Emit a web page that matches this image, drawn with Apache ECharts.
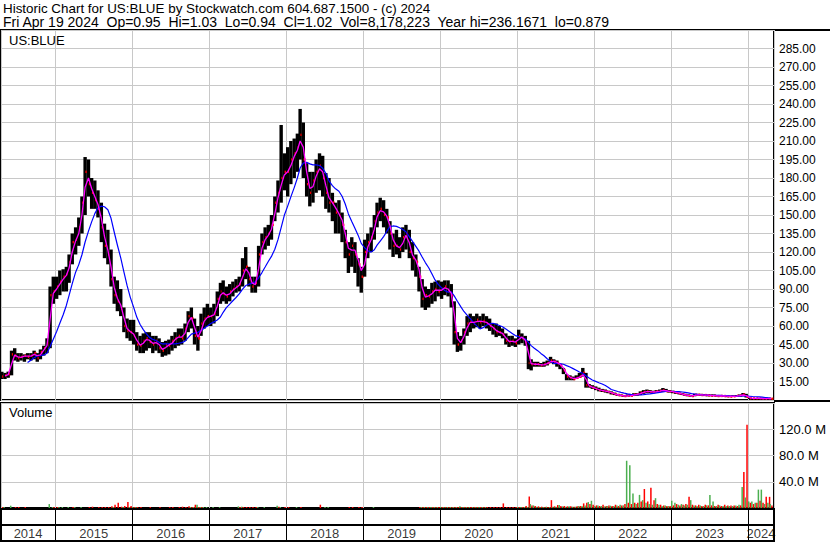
<!DOCTYPE html>
<html><head><meta charset="utf-8">
<script src="https://cdn.jsdelivr.net/npm/echarts@6/dist/echarts.min.js"></script>
<style>html,body{margin:0;padding:0;background:#fff}#c{width:830px;height:543px}</style>
</head><body><div id="c"></div>
<script>
// ---- half-month periods: [low, high, close] ----
const price2014 = [[17,23,19],[17,22,20],[18,23,21],[20,40,37],[32,42,36],[31,38,34],[32,38,35],[31,37,36],[33,38,35],[32,38,36],[33,40,38],[31,38,34],[33,41,39],[36,44,42],[38,50,46],[42,92,85],[78,100,88]];
const price2015 = [[82,100,92],[85,105,96],[88,106,100],[88,108,102],[95,118,112],[110,135,128],[118,140,130],[125,148,140],[135,165,160],[150,197,185],[165,195,175],[155,180,168],[155,178,162],[148,170,155],[128,160,140],[115,143,125],[110,138,118],[92,122,98],[78,100,85],[72,97,80],[68,90,74],[55,75,60],[50,66,56],[48,65,55]];
const price2016 = [[45,65,52],[40,55,45],[38,52,44],[38,54,48],[40,55,50],[42,55,47],[38,52,45],[40,52,48],[38,50,42],[35,47,40],[36,48,45],[37,49,44],[40,52,48],[42,55,50],[44,58,52],[45,58,50],[48,62,58],[55,72,68],[58,75,66],[45,66,52],[40,60,50],[52,70,62],[58,75,66],[60,78,68]];
const price2017 = [[60,75,68],[62,78,70],[68,88,82],[78,95,88],[80,97,86],[78,92,84],[80,94,88],[84,96,90],[87,98,92],[88,100,94],[92,115,105],[98,124,108],[92,108,98],[87,100,92],[87,100,95],[92,125,118],[118,135,128],[122,140,132],[125,142,135],[130,150,142],[145,165,160],[152,178,168],[160,223,180],[170,200,185]];
const price2018 = [[165,205,185],[175,210,195],[180,212,200],[185,216,205],[195,236,215],[180,225,195],[165,192,175],[157,185,168],[160,185,178],[168,195,185],[170,200,190],[165,198,180],[155,184,168],[152,180,160],[145,168,160],[135,160,152],[135,162,150],[128,152,142],[115,138,128],[103,128,118],[108,132,125],[103,128,118],[92,115,110],[87,108,100]];
const price2019 = [[100,130,120],[115,135,128],[120,140,132],[130,150,145],[140,160,152],[145,164,155],[140,162,150],[135,155,148],[122,145,135],[116,135,125],[118,138,125],[115,132,122],[120,140,132],[122,142,135],[115,138,120],[105,128,115],[100,118,112],[88,108,100],[75,98,82],[73,92,85],[75,90,84],[78,95,88],[80,96,90],[84,97,88]];
const price2020 = [[82,96,90],[85,97,92],[84,97,88],[75,94,85],[45,80,55],[39,55,45],[40,52,48],[45,58,55],[52,68,62],[55,70,64],[58,68,62],[59,70,65],[58,68,63],[60,70,64],[58,68,62],[56,66,60],[53,62,58],[51,62,55],[52,60,55],[50,58,53],[45,54,48],[43,52,47],[44,52,48],[43,50,46]];
const price2021 = [[45,57,52],[46,54,50],[44,52,47],[25,48,30],[24,33,29],[27,31,29],[27,31,29],[27,30,28],[27,31,29],[28,32,30],[30,35,32],[29,33,31],[27,32,30],[25,29,28],[21,26,24],[16,21,19],[16,20,18],[16,19,17],[17,20,18],[18,22,19],[19,26,22],[10,22,12],[10,13,11],[9,12,10]];
const price2022 = [[8,11,9],[7,10,8],[6.5,9,7.5],[6,8.5,7],[5.5,7.5,6.5],[4.5,7,5.5],[4,6,4.5],[3.5,5,4],[3,4.5,3.5],[2.7,4,3.2],[2.9,4.5,3.5],[3,4.5,3.5],[3.2,5.5,4.5],[3.5,5.5,4.5],[4,7,6],[5,8,6.5],[5.5,8.5,7],[5.5,8,6.5],[5.5,7.5,6.5],[6,8,7],[6.5,8.5,7.5],[6.5,9.7,8],[6.5,9,7],[6,8,7]];
const price2023 = [[5.5,7.5,6.5],[5,7,6],[4.5,6,5],[4,5.5,4.5],[3.5,5,4],[3,4.5,3.5],[2.8,4,3.2],[3,5,4.2],[3.5,5,4.2],[3.5,5,4],[3.2,4.8,4],[3,4.5,3.8],[3,4.5,3.5],[3,4.5,3.5],[2.8,4,3.2],[2.8,4,3.3],[2.6,3.8,3.2],[2.5,3.5,3],[2.4,3.5,2.8],[2.5,3.8,3],[2.7,4,3.4],[2.8,4.5,3.6],[3,5.7,4.5],[2,5,2.6]];
const price2024 = [[1.2,2,1.4],[1.0,1.6,1.3],[1.1,1.6,1.3],[1.0,1.5,1.2],[1.0,1.4,1.1],[0.9,1.3,1.1],[0.9,1.2,1.0],[0.88,1.05,1.02]];

// ---- peak daily volume in each half-month, millions: [up (green), down (red)] ----
const vol2014 = [[0,1],[1,0],[0,0],[3.5,0],[0,1.5],[0,1.2],[0,0],[0,1],[0,0],[0,0],[0,0],[0,0],[0,0],[0,0],[0,0],[6,0],[1,1.5]];
const vol2015 = [[0,1.2],[1,0],[1,0],[0,0],[1,0],[0,1],[1,0],[0,0],[1.5,0],[0,0],[0,1],[0,2],[0,0],[0,1.2],[0,1],[0,1.2],[0,1],[0,2.5],[1,5],[0,8],[0,2],[1,3],[0,9],[1,3]];
const vol2016 = [[1,1.5],[1,1],[0,1],[0,0],[0,0],[0,1],[0,0],[0,0],[0,1],[0,0],[0,0],[0,1.5],[0,1],[0,0],[0,1],[0,2],[0,1.2],[0,2.5],[1,1.5],[1,5],[5,1],[1.5,1],[1,0],[1,0]];
const vol2017 = [[0,0],[1,0],[0,0],[1,0],[0,0],[0,0],[0,0],[0,0],[0,0],[2.5,1],[2,1.5],[0,1],[0,1.2],[0,1.2],[0,1],[1.2,0],[0,0],[1,0],[0,0],[0,0],[0,0],[3.5,2],[1,0],[0,1]];
const vol2018 = [[0,1],[0,0],[0,0],[1,0],[0,1.2],[0,0],[0,0],[0,0],[0,0],[0,0],[0,5],[0,0],[1,0],[1,0],[0,0],[0,0],[0,0],[0,0],[0,0],[0,1],[0,1],[0,0],[0,1],[0,1.2]];
const vol2019 = [[0,0],[0,0],[0,0],[1,0],[0,0],[0,0],[0,0],[0,0],[0,0],[0,0],[0,0],[0,0],[0,0],[0,0],[0,0],[0,0],[0,0],[0,1],[1,1],[1,1],[1,1],[1,1],[1,1],[1,1]];
const vol2020 = [[1,1],[1,1],[1,1],[1,1.5],[1.2,1.5],[1,1.2],[2.5,1],[1.2,1],[1,1],[1.5,1],[1,1],[1,1],[1,1],[1,1],[1,1],[0,1],[0,1],[0,1],[0,1],[0,7],[0,1.2],[0,1.2],[0,1],[0,1]];
const vol2021 = [[1,1.5],[1,1.2],[1.5,3],[1.5,17.5],[6,4],[4,3],[2,2.5],[1.5,2],[1.5,1.5],[2,1.5],[1.5,12],[2,2.5],[2,4.5],[4.5,3],[2.5,3],[2,2.5],[2.5,2.5],[2,2],[2,2.5],[3,3],[3,7],[4,8],[9,6],[11,5]];
const vol2022 = [[3,4],[4,3],[3,5],[2.5,3],[3,4],[3.5,3],[3,5],[4,3],[5,4],[4,6],[72,8],[65,6],[22,8],[6,8],[20,10],[12,29],[8,10],[6,31],[5,12],[15,6],[5,5],[3,4],[4,3],[3,3]];
const vol2023 = [[11,4],[8,6],[5,4],[6,5],[4,6],[5,17],[12,5],[4,4],[3,5],[4,3],[3,5],[4,4],[20,4],[10,3],[3,5],[4,3],[3,5],[3,4],[3,4],[3,4],[4,3],[5,4],[32,55],[16,127]];
const vol2024 = [[10,8],[10,6],[8,8],[28,11],[28,8],[6,17],[8,17],[6,4]];

const years = [2014,2015,2016,2017,2018,2019,2020,2021,2022,2023,2024];
const yearLabels = ['2014','2015','2016','2017','2018','2019','2020','2021','2022','2023','2024'];
const priceByYear = [price2014,price2015,price2016,price2017,price2018,price2019,price2020,price2021,price2022,price2023,price2024];
const volByYear = [vol2014,vol2015,vol2016,vol2017,vol2018,vol2019,vol2020,vol2021,vol2022,vol2023,vol2024];
const firstHalf2014 = 7; // data begins in the second half of April 2014

const titleLine1 = 'Historic Chart for US:BLUE by Stockwatch.com 604.687.1500 - (c) 2024';
const titleLine2 = 'Fri Apr 19 2024  Op=0.95  Hi=1.03  Lo=0.94  Cl=1.02  Vol=8,178,223  Year hi=236.1671  lo=0.879';

const AX_MIN = new Date(2014,3,19).getTime();
const AX_MAX = new Date(2024,4,3).getTime();
const LAST_DAY = new Date(2024,3,19).getTime();
const YEAR_MS = 365*24*3600*1000;
const FONT = '"Liberation Sans", Arial, sans-serif';

const rows = [];
years.forEach((y, yi) => {
  const start = y === 2014 ? firstHalf2014 : 0;
  priceByYear[yi].forEach((p, i) => {
    const k = start + i;
    let t = new Date(y, Math.floor(k/2), k % 2 ? 23 : 8).getTime();
    if (t > LAST_DAY) t = LAST_DAY;
    const v = volByYear[yi][i];
    rows.push([t, p[0], p[1], p[2], v[0], v[1]]);
  });
});
function movingAvg(n){
  return rows.map((r,i) => {
    if (i < n-1) return [r[0], null];
    let s = 0; for (let j=i-n+1;j<=i;j++) s += rows[j][3];
    return [r[0], s/n];
  });
}
const maShort = movingAvg(2);
const maLong = movingAvg(9);

const yearMid = years.map((y,i) => {
  const a = Math.max(AX_MIN, new Date(y,0,1).getTime());
  const b = Math.min(AX_MAX, new Date(y+1,0,1).getTime());
  return [(a+b)/2, 0.5, yearLabels[i]];
});

const chart = echarts.init(document.getElementById('c'), null, {renderer:'svg'});
const gridLine = {lineStyle:{color:'#c8c8c8', width:1}};
function xAx(i, color){
  return {type:'time', gridIndex:i, min:AX_MIN, max:AX_MAX, minInterval:YEAR_MS, maxInterval:YEAR_MS,
    axisLine:{show:false}, axisTick:{show:false}, axisLabel:{show:false},
    splitLine:{show:true, lineStyle:{color:color, width:1}}};
}
const txt = {color:'#000', fontFamily:FONT, fontWeight:'normal'};
chart.setOption({
  animation:false,
  backgroundColor:'#fff',
  title:[
    {text:titleLine1, left:3, top:1, padding:0, textStyle:Object.assign({fontSize:13.4, lineHeight:14}, txt)},
    {text:titleLine2, left:3, top:15, padding:0, textStyle:Object.assign({fontSize:14, lineHeight:14}, txt)},
    {text:'US:BLUE', left:9, top:34, padding:0, textStyle:Object.assign({fontSize:13}, txt)},
    {text:'Volume', left:9, top:406, padding:0, textStyle:Object.assign({fontSize:13}, txt)}
  ],
  grid:[
    {left:1, right:56, top:30, height:370, show:true, borderColor:'#000', borderWidth:2},
    {left:1, right:56, top:403, height:105, show:true, borderColor:'#000', borderWidth:2},
    {left:1, right:56, top:509, height:32, show:true, borderColor:'#000', borderWidth:2}
  ],
  xAxis:[xAx(0,'#c8c8c8'), xAx(1,'#c8c8c8'), xAx(2,'#000')],
  yAxis:[
    {type:'value', gridIndex:0, position:'right', min:0, max:300, interval:15,
     axisLine:{show:false}, axisTick:{show:false}, splitLine:gridLine,
     axisLabel:{showMinLabel:false, showMaxLabel:false, margin:5, fontSize:12, color:'#000', fontFamily:FONT,
       formatter:v => v.toFixed(2)}},
    {type:'value', gridIndex:1, position:'right', min:0, max:160, interval:40,
     axisLine:{show:false}, axisTick:{show:false}, splitLine:gridLine,
     axisLabel:{showMinLabel:false, showMaxLabel:false, margin:5, fontSize:13, color:'#000', fontFamily:FONT,
       formatter:v => v.toFixed(1) + ' M'}},
    {type:'value', gridIndex:2, min:0, max:2, interval:1,
     axisLine:{show:false}, axisTick:{show:false}, axisLabel:{show:false},
     splitLine:{lineStyle:{color:'#000', width:2}}}
  ],
  graphic:[
    {type:'line', shape:{x1:774, y1:30, x2:830, y2:30}, style:{stroke:'#000', lineWidth:2}},
    {type:'line', shape:{x1:774, y1:401, x2:830, y2:401}, style:{stroke:'#000', lineWidth:2}}
  ],
  series:[
    {type:'custom', xAxisIndex:0, yAxisIndex:0, data:rows, encode:{x:0, y:[1,2]}, clip:true,
     renderItem:(params, api) => {
       const t = api.value(0);
       const pHi = api.coord([t, api.value(2)]);
       const pLo = api.coord([t, api.value(1)]);
       const pC = api.coord([t, api.value(3)]);
       return {type:'group', children:[
         {type:'rect', shape:{x:pHi[0]-1.7, y:pHi[1], width:3.4, height:Math.max(1.5, pLo[1]-pHi[1])}, style:{fill:'#000'}},
         {type:'rect', shape:{x:pC[0]+0.3, y:pC[1]-1.2, width:2, height:2.4}, style:{fill:'#ff0000'}}
       ]};
     }},
    {type:'line', xAxisIndex:0, yAxisIndex:0, data:maLong, showSymbol:false, connectNulls:false,
     lineStyle:{color:'#0000ff', width:1.2}},
    {type:'line', xAxisIndex:0, yAxisIndex:0, data:maShort, showSymbol:false, connectNulls:false,
     lineStyle:{color:'#ff00ff', width:1.3}},
    {type:'custom', xAxisIndex:1, yAxisIndex:1, data:rows.map(r => [r[0], r[4], r[5]]), encode:{x:0, y:[1,2]}, clip:true,
     renderItem:(params, api) => {
       const t = api.value(0);
       const base = api.coord([t, 0]);
       const g = api.coord([t, api.value(1)]);
       const r = api.coord([t, api.value(2)]);
       const ch = [];
       if (api.value(1) > 0) { const h = Math.max(1, base[1]-g[1]); ch.push({type:'rect', shape:{x:base[0]-1.6, y:base[1]-h, width:1.5, height:h}, style:{fill:'#4caf50'}}); }
       if (api.value(2) > 0) { const h = Math.max(1, base[1]-r[1]); ch.push({type:'rect', shape:{x:base[0]+0.1, y:base[1]-h, width:1.5, height:h}, style:{fill:'#ff0000'}}); }
       return {type:'group', children:ch};
     }},
    {type:'scatter', xAxisIndex:2, yAxisIndex:2, data:yearMid, symbolSize:0, silent:true,
     label:{show:true, position:'inside', formatter:p => p.data[2], fontSize:13, color:'#000', fontFamily:FONT}}
  ]
});
</script></body></html>
